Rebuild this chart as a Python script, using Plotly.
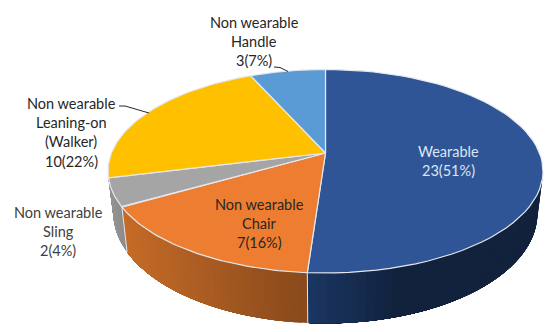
import math
import plotly.graph_objects as go

# slice values, clockwise from 12 o'clock
categories = ["Wearable", "Non wearable Chair", "Non wearable Sling",
              "Non wearable Leaning-on (Walker)", "Non wearable Handle"]
values = [23, 7, 2, 10, 3]
percents = [51, 16, 4, 22, 7]

top_colors = ["#2F5597", "#ED7D31", "#A5A5A5", "#FFC000", "#5B9BD5"]
# side wall gradient by x: colour at the left and right end of the span given below
side_colors = [("#1C3866", "#12223D"), ("#C66C28", "#8A4A1C"), ("#9A9A9A", "#8C8C8C"), None, None]
side_spans = [(307, 400), (127, 307), (109, 127), None, None]

label_lines = [
    ["Wearable", "23(51%)"],
    ["Non wearable", "Chair", "7(16%)"],
    ["Non wearable", "Sling", "2(4%)"],
    ["Non wearable", "Leaning-on", "(Walker)", "10(22%)"],
    ["Non wearable", "Handle", "3(7%)"],
]
label_x = [448, 259, 58, 71, 254]
label_y = [151, 204, 212, 103, 22]
label_colors = ["#DCE6F2", "#262626", "#404040", "#262626", "#262626"]
LINE_STEP = 19.4

edge_color = "#E4E8EE"

# the pie is drawn in perspective, so the hub sits above the middle of the ellipse
CX, K = 325.5, 0.1793
TOP = dict(a=214, b=98.5, cy=153)
BOTTOM = dict(a=208.6, b=106.6, cy=193.5)


def project(theta, disc):
    u, v = math.sin(theta), math.cos(theta)
    d = 1 + K * v
    return CX + disc["a"] * u / d, disc["cy"] - disc["b"] * v / d


def arc(t0, t1, disc, n=60):
    pts = [project(t0 + (t1 - t0) * i / n, disc) for i in range(n + 1)]
    return [p[0] for p in pts], [p[1] for p in pts]


def mix(c0, c1, f):
    f = min(max(f, 0), 1)
    a = [int(c0[i:i + 2], 16) for i in (1, 3, 5)]
    b = [int(c1[i:i + 2], 16) for i in (1, 3, 5)]
    return "rgb(%d,%d,%d)" % tuple(a[i] + (b[i] - a[i]) * f for i in range(3))


fig = go.Figure()

total = sum(values)
bounds = [0]
for v in values:
    bounds.append(bounds[-1] + v / total * 2 * math.pi)

# side walls first: only the front part of the disc shows
SIDE_START, SIDE_END = math.radians(97), math.radians(262)
for i, colors in enumerate(side_colors):
    if colors is None:
        continue
    t0 = max(bounds[i], SIDE_START)
    t1 = min(bounds[i + 1], SIDE_END)
    steps = 40
    # every strip runs on to the end of the wall, so the strips overlap and leave no seams
    for s in range(steps):
        a0 = t0 + (t1 - t0) * s / steps
        xt, yt = arc(a0, t1, TOP, 30)
        xb, yb = arc(t1, a0, BOTTOM, 30)
        mid_x = project(a0, BOTTOM)[0]
        span = side_spans[i]
        col = mix(colors[0], colors[1], (mid_x - span[0]) / (span[1] - span[0]))
        fig.add_trace(go.Scatter(x=xt + xb, y=yt + yb, mode="lines", fill="toself",
                                 fillcolor=col, line=dict(color=col, width=0), hoverinfo="skip"))

# light seams where the side walls meet
for i in (0, 1):
    xt, yt = project(bounds[i + 1], TOP)
    xb, yb = project(bounds[i + 1], BOTTOM)
    fig.add_trace(go.Scatter(x=[xt, xb], y=[yt, yb], mode="lines",
                             line=dict(color=edge_color, width=1), hoverinfo="skip"))

# top face
for i, col in enumerate(top_colors):
    xs, ys = arc(bounds[i], bounds[i + 1], TOP)
    fig.add_trace(go.Scatter(x=[CX] + xs + [CX], y=[TOP["cy"]] + ys + [TOP["cy"]], mode="lines",
                             fill="toself", fillcolor=col, line=dict(color=edge_color, width=1.2),
                             hoverinfo="skip"))

# leader lines for the two outside labels that have them
walker_x = [119, 125, 149]
walker_y = [106, 106, 113]
handle_x = [274, 280, 288]
handle_y = [67, 67.5, 71.5]
for lx, ly in ((walker_x, walker_y), (handle_x, handle_y)):
    fig.add_trace(go.Scatter(x=lx, y=ly, mode="lines", line=dict(color="#262626", width=1),
                             hoverinfo="skip"))

for lines, x, y, col in zip(label_lines, label_x, label_y, label_colors):
    for n, text in enumerate(lines):
        fig.add_annotation(x=x, y=y + n * LINE_STEP, text=text, showarrow=False, xanchor="center",
                           yanchor="middle", font=dict(family="Lato", size=14.5, color=col))

fig.update_layout(width=550, height=332, margin=dict(l=0, r=0, t=0, b=0), showlegend=False,
                  paper_bgcolor="white", plot_bgcolor="white")
fig.update_xaxes(range=[0, 550], visible=False)
fig.update_yaxes(range=[332, 0], visible=False)

fig.write_html("out.html", config=dict(displayModeBar=False),
               post_script="document.body.style.margin='0';")
